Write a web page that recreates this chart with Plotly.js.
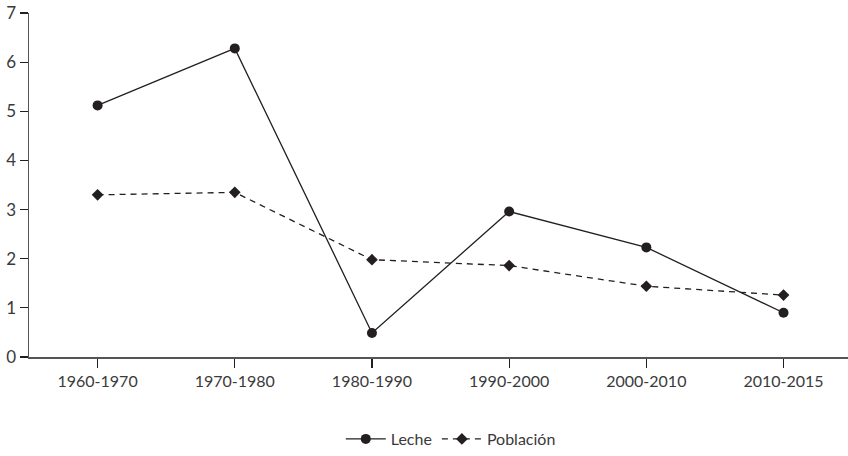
<!DOCTYPE html>
<html>
<head>
<meta charset="utf-8">
<script src="https://cdn.plot.ly/plotly-3.0.1.min.js"></script>
<style>html,body{margin:0;padding:0;background:#fff;}#chart{width:848px;height:456px;}</style>
</head>
<body>
<div id="chart"></div>
<script>
const categories = ["1960-1970", "1970-1980", "1980-1990", "1990-2000", "2000-2010", "2010-2015"];
const leche = [5.12, 6.28, 0.49, 2.96, 2.23, 0.90];
const poblacion = [3.30, 3.35, 1.98, 1.86, 1.44, 1.26];
const yTicks = [0, 1, 2, 3, 4, 5, 6, 7];

const ink = "#231f20";
const txt = "#3a3a3a";

const traces = [
  {
    x: categories, y: leche, name: "Leche", type: "scatter", mode: "lines+markers",
    line: {color: ink, width: 1.3},
    marker: {symbol: "circle", size: 10, color: ink}
  },
  {
    x: categories, y: poblacion, name: "Población", type: "scatter", mode: "lines+markers",
    line: {color: ink, width: 1.3, dash: "6px,5px"},
    marker: {symbol: "diamond", size: 9, color: ink}
  }
];

const layout = {
  width: 848, height: 456,
  margin: {l: 29, r: 0, t: 13, b: 99},
  paper_bgcolor: "#fff", plot_bgcolor: "#fff",
  font: {family: "Lato, Open Sans, sans-serif", size: 16, color: txt},
  showlegend: true,
  legend: {orientation: "h", x: 0.515, xanchor: "center", y: -0.24, yanchor: "middle",
    font: {size: 16, color: txt}, itemwidth: 40, tracegroupgap: 0},
  xaxis: {
    type: "category", range: [-0.5, 5.47],
    showgrid: false, zeroline: false,
    showline: true, linecolor: "#555", linewidth: 1.5,
    ticks: "outside", ticklen: 9, tickcolor: ink, tickwidth: 1.2,
    tickfont: {size: 16, color: txt}, fixedrange: true
  },
  yaxis: {
    range: [0, 7], tickvals: yTicks, ticktext: yTicks.map(String),
    showgrid: false, zeroline: false,
    showline: true, linecolor: "#555", linewidth: 1.5,
    ticks: "outside", ticklen: 8, tickcolor: ink, tickwidth: 1.2,
    tickfont: {size: 17, color: txt}, fixedrange: true
  }
};

Plotly.newPlot("chart", traces, layout, {displayModeBar: false, staticPlot: true});
</script>
</body>
</html>
